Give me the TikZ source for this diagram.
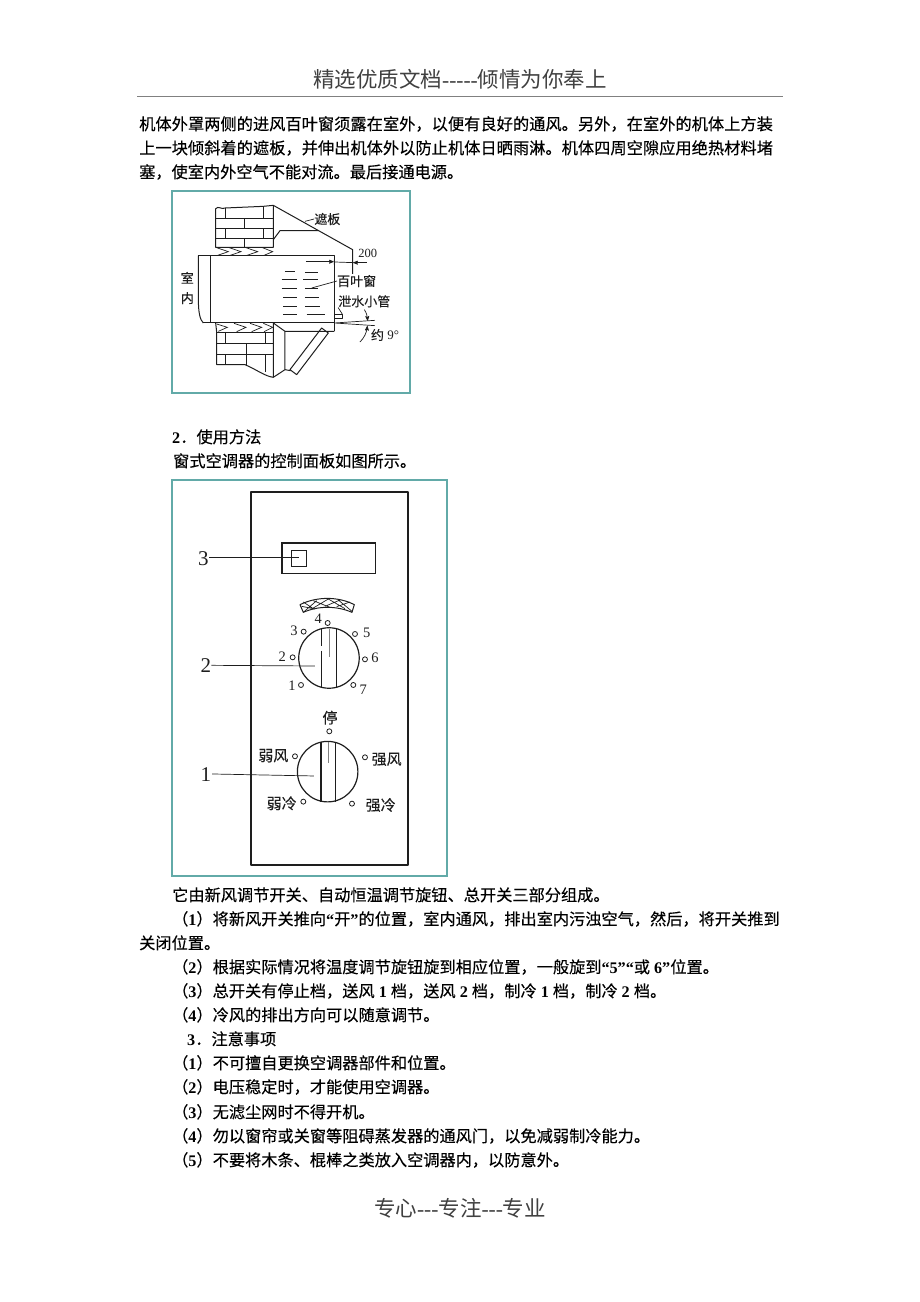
\documentclass[tikz,border=0pt]{standalone}
\usepackage{fontspec}
\setmainfont{Liberation Serif}
\newfontfamily\cjk{Noto Sans CJK SC}[FakeBold=0.25]
\newfontfamily\cjkpage{Noto Sans CJK SC}
\usetikzlibrary{positioning,arrows}
\definecolor{frameteal}{HTML}{62AAA8}
\definecolor{inkgray}{HTML}{1E1E1E}
\newcommand{\lat}[1]{{\rmfamily\bfseries #1}}

\begin{document}
\begin{tikzpicture}[x=1pt,y=-1pt,>=stealth',
        bodytext/.style={anchor=base west,inner sep=0pt,text=black,font=\fontsize{16.2}{16}\selectfont\cjk},
        pagetext/.style={anchor=base,inner sep=0pt,text=black!75,font=\fontsize{21.5}{22}\selectfont\cjkpage},
        figframe/.style={draw=frameteal,line width=1.1pt},
        part/.style={draw=inkgray,line width=1pt,line join=round},
        thinpart/.style={draw=inkgray,line width=0.7pt},
        figlabel/.style={inner sep=0pt,text=inkgray,font=\fontsize{13}{13}\selectfont\cjk},
        panellabel/.style={inner sep=0pt,text=inkgray,font=\fontsize{15}{15}\selectfont\cjk},
        bignum/.style={inner sep=0pt,text=inkgray,font=\fontsize{21}{21}\selectfont},
        smallnum/.style={inner sep=0pt,text=inkgray,font=\fontsize{14.5}{15}\selectfont},
        dot/.style={circle,draw=inkgray,line width=0.8pt,minimum size=5pt,inner sep=0pt},
        dial/.style={circle,draw=inkgray,line width=1.2pt,minimum size=60.5pt,inner sep=0pt}]

    \useasboundingbox (0,0) rectangle (920,1302);

    % header and footer
    \node[pagetext] (head) at (460,87) {精选优质文档{\rmfamily -{}-{}-{}-{}-}倾情为你奉上};
    \draw[gray,line width=0.6pt] (137,96) -- (783,96);
    \node[pagetext] (foot) at (460,1216) {专心{\rmfamily -{}-{}-}专注{\rmfamily -{}-{}-}专业};

    % text above the first figure
    \node[bodytext,font=\fontsize{16.25}{16}\selectfont\cjk] (t1) at (139,130) {机体外罩两侧的进风百叶窗须露在室外，以便有良好的通风。另外，在室外的机体上方装};
    \node[bodytext,font=\fontsize{16.25}{16}\selectfont\cjk] (t2) at (139,154) {上一块倾斜着的遮板，并伸出机体外以防止机体日晒雨淋。机体四周空隙应用绝热材料堵};
    \node[bodytext] (t3) at (139,178) {塞，使室内外空气不能对流。最后接通电源。};
    \node[bodytext] (t4) at (172,443) {\lat{2}．使用方法};
    \node[bodytext] (t5) at (173,467) {窗式空调器的控制面板如图所示。};

    \node[bodytext] (t6) at (172,901) {它由新风调节开关、自动恒温调节旋钮、总开关三部分组成。};
    \node[bodytext] (t7) at (172,925) {（\lat{1}）将新风开关推向\lat{“}开\lat{”}的位置，室内通风，排出室内污浊空气，然后，将开关推到};
    \node[bodytext] (t8) at (139,949) {关闭位置。};
    \node[bodytext] (t9) at (172,973) {（\lat{2}）根据实际情况将温度调节旋钮旋到相应位置，一般旋到\lat{“5”“}或\lat{ 6”}位置。};
    \node[bodytext] (t10) at (172,997) {（\lat{3}）总开关有停止档，送风\lat{ 1 }档，送风\lat{ 2 }档，制冷\lat{ 1 }档，制冷\lat{ 2 }档。};
    \node[bodytext] (t11) at (172,1021) {（\lat{4}）冷风的排出方向可以随意调节。};
    \node[bodytext] (t12) at (187,1045) {\lat{3}．注意事项};
    \node[bodytext] (t13) at (172,1069) {（\lat{1}）不可擅自更换空调器部件和位置。};
    \node[bodytext] (t14) at (172,1093) {（\lat{2}）电压稳定时，才能使用空调器。};
    \node[bodytext] (t15) at (172,1118) {（\lat{3}）无滤尘网时不得开机。};
    \node[bodytext] (t16) at (172,1142) {（\lat{4}）勿以窗帘或关窗等阻碍蒸发器的通风门，以免减弱制冷能力。};
    \node[bodytext] (t17) at (172,1166) {（\lat{5}）不要将木条、棍棒之类放入空调器内，以防意外。};

    % first figure
    \draw[figframe] (172,191) rectangle (410,393);
    \begin{scope}[shift={(170,188)},x=0.3333pt,y=-0.3333pt]
        % upper wall
        \draw[part] (137,178) -- (137,62) .. controls (145,52) and (155,66) .. (165,60) -- (280,55) -- (310,52) -- (310,178) -- cycle;
        \draw[thinpart] (137,90) -- (310,90) (137,122) -- (310,122) (137,152) -- (310,152);
        \draw[thinpart] (165,60) -- (165,90) (280,55) -- (280,90) (222,90) -- (222,122)
            (165,122) -- (165,152) (280,122) -- (280,152) (222,152) -- (222,178);
        \draw[thinpart] (137,178) -- (175,191) -- (140,203) (175,178) -- (213,191) -- (178,203)
            (225,178) -- (263,191) -- (228,203) (275,178) -- (308,191) -- (280,203);
        % hood and shade
        \draw[part] (310,52) -- (548,185) -- (548,258);
        \draw[part] (310,155) -- (330,128) -- (445,128);
        % cabinet
        \draw[part] (85,203) -- (493,203) -- (493,430) (121,203) -- (121,405) (100,405) -- (493,405);
        \draw[part] (85,203) -- (85,330) .. controls (85,375) and (90,395) .. (100,405);
        % louvres
        \draw[thinpart] (345,250) -- (375,250) (405,252) -- (445,252) (335,275) -- (382,275) (400,275) -- (445,275)
            (335,300) -- (382,300) (405,302) -- (445,302) (340,328) -- (382,328) (405,328) -- (448,328)
            (340,355) -- (382,355) (405,355) -- (450,355) (340,378) -- (380,378) (410,378) -- (465,378);
        % lower wall
        \draw[part] (137,405) -- (140,432) -- (140,530) -- (225,530) .. controls (260,545) and (285,565) .. (310,568) -- (310,405);
        \draw[thinpart] (140,432) -- (310,432) (140,466) -- (310,466) (140,500) -- (310,500);
        \draw[thinpart] (165,432) -- (165,466) (285,432) -- (285,466) (228,466) -- (228,500)
            (165,500) -- (165,530) (285,500) -- (285,552) (228,500) -- (228,530);
        \draw[thinpart] (140,408) -- (172,418) -- (145,430) (192,406) -- (228,418) -- (200,431)
            (240,406) -- (275,418) -- (245,431) (280,406) -- (308,418) -- (282,431);
        % lower hood with slanted bar
        \draw[part] (310,405) -- (345,430) -- (345,545) -- (362,548) (345,430) -- (493,430) (310,568) -- (345,545);
        \draw[part] (455,420) -- (475,435) -- (380,560) -- (360,545) -- cycle;
        % drain pipe and its angle
        \draw[part] (493,380) rectangle (518,392);
        \draw[thinpart] (493,405) -- (615,397) (493,405) -- (615,413);
        \draw[thinpart,->] (583,365) .. controls (590,375) and (592,385) .. (593,398);
        \draw[thinpart,->] (570,462) .. controls (582,450) and (590,435) .. (592,414);
        % dimension
        \draw[thinpart,->] (408,221) -- (491,221);
        \draw[thinpart,->] (590,224) -- (550,224);
        \draw[thinpart] (495,222) -- (552,224) (493,215) -- (493,230);
        % labels
        \node[figlabel] (shade) at (472,93) {遮板};
        \node[figlabel] (louvre) at (560,279) {百叶窗};
        \node[figlabel] (drain) at (583,340) {泄水小管};
        \node[figlabel,text width=13pt,align=center,font=\fontsize{13}{20}\selectfont\cjk] (indoor) at (52,300) {室\\内};
        \node[figlabel,font=\fontsize{12.5}{13}\selectfont] (twoh) at (593,195) {200};
        \node[figlabel] (nine) at (645,441) {约{\rmfamily\ 9°}};
        \coordinate (shadeend) at (405,100);
        \coordinate (louvreend) at (425,300);
        \coordinate (drainend) at (518,380);
        \draw[thinpart] (shade.west) -- (shadeend);
        \draw[thinpart] (louvre.west) -- (louvreend);
        \draw[thinpart] (drain.south west) -- (drainend);
    \end{scope}

    % control panel
    \draw[figframe] (172,480) rectangle (447,876);
    \begin{scope}[shift={(170,478)},x=0.3333pt,y=-0.3333pt]
        \draw[part,line width=1.3pt] (243,42) rectangle (714,1161);
        \node[draw=inkgray,line width=1.3pt,minimum width=93.3pt,minimum height=30.6pt,inner sep=0pt] (window) at (476,241) {};
        \node[draw=inkgray,line width=1.3pt,minimum width=15.3pt,minimum height=16pt,inner sep=0pt] (lamp) at (387,241) {};

        % scale band
        \draw[part] (390,380) .. controls (440,355) and (505,355) .. (553,380) -- (546,403)
            .. controls (500,383) and (445,383) .. (400,403) -- cycle;
        \draw[thinpart] (400,403) -- (440,368) (430,390) -- (475,363) (465,385) -- (510,366) (500,386) -- (540,372)
            (395,385) -- (430,392) -- (400,372) (430,368) -- (480,388) (475,363) -- (525,392) (505,366) -- (546,400);

        % upper dial
        \node[dial] (dialb) at (477,540) {};
        \draw[part,line width=1.3pt] (455,452) -- (455,505) (455,518) -- (455,627) (499,452) -- (499,627);
        \draw[thinpart,gray] (477,452) -- (477,537);
        \foreach \n/\dx/\dy/\tx/\ty in {1/393/621/366/624,2/368/538/337/537,3/401/461/372/457,
                4/473/435/445/423,5/555/468/590/465,6/585/544/615/540,7/550/621/580/634}{
            \node[dot] (bd\n) at (\dx,\dy) {};
            \node[smallnum] (bt\n) at (\tx,\ty) {\n};
        }

        % lower dial
        \node[dial] (diala) at (473,881) {};
        \draw[part,line width=1.3pt] (453,792) -- (453,971) (497,792) -- (497,971);
        \draw[thinpart,gray] (476,792) -- (476,854);
        \node[dot] (stopdot) at (478,760) {};
        \node[dot] (wwdot) at (375,835) {};
        \node[dot] (swdot) at (585,838) {};
        \node[dot] (wcdot) at (400,971) {};
        \node[dot] (scdot) at (546,977) {};
        \node[panellabel] (stop) at (480,719) {停};
        \node[panellabel] (weakwind) at (310,833) {弱风};
        \node[panellabel] (strongwind) at (650,844) {强风};
        \node[panellabel] (weakcool) at (335,976) {弱冷};
        \node[panellabel] (strongcool) at (632,981) {强冷};

        % part numbers with their leaders
        \node[bignum] (num3) at (100,243) {3};
        \node[bignum] (num2) at (108,562) {2};
        \node[bignum] (num1) at (108,891) {1};
        \coordinate (end3) at (386,239);
        \coordinate (end2) at (435,564);
        \coordinate (end1) at (432,894);
        \draw[thinpart] (num3.east) ++(2,-4) -- (end3);
        \draw[thinpart] (num2.east) -- (end2);
        \draw[thinpart] (num1.east) ++(2,-3) -- (end1);
    \end{scope}
\end{tikzpicture}
\end{document}
